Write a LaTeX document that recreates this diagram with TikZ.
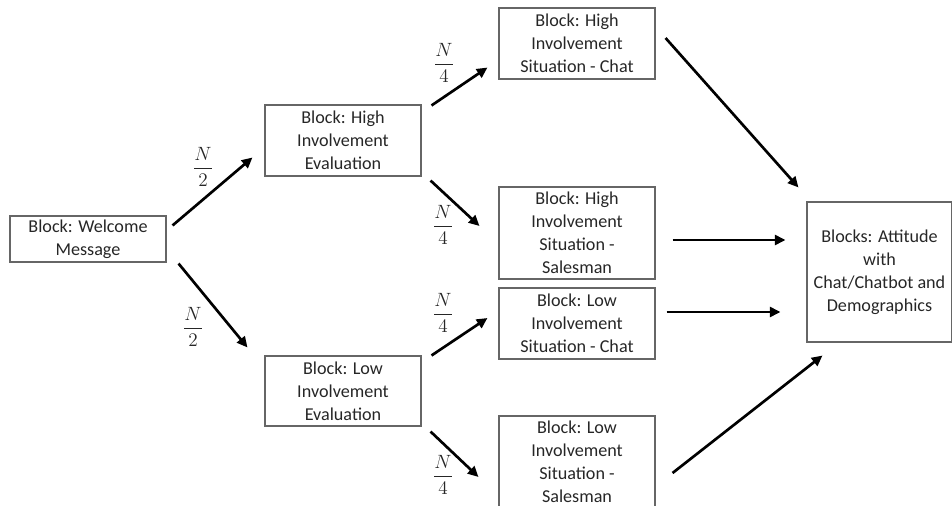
\documentclass[tikz,border=0pt]{standalone}
\usepackage{fontspec}
\setmainfont{Carlito}
\usetikzlibrary{arrows.meta}

\tikzset{
  block/.style={draw=black!60, line width=0.8pt, text=black!85, align=center,
    inner sep=0pt, minimum width=117pt, font=\fontsize{13.6}{17.25}\selectfont},
  flow/.style={line width=2pt, -{Triangle[length=8pt,width=7.5pt]}},
  share/.style={text=black!85, font=\fontsize{13.6}{16}\selectfont}
}

\begin{document}
\begin{tikzpicture}[x=0.75pt, y=-0.75pt]
      \useasboundingbox (0,0) rectangle (952,506);

      \node[block, minimum height=34.5pt] (welcome) at (88,239) {Block: Welcome\\Message};

      \node[block, minimum height=53.25pt] (hieval) at (343,140.5) {Block: High\\Involvement\\Evaluation};
      \node[block, minimum height=52.5pt] (loeval) at (343,391) {Block: Low\\Involvement\\Evaluation};

      \node[block, minimum height=53.25pt] (hichat) at (577,43.5) {Block: High\\Involvement\\Situation - Chat};
      \node[block, minimum height=69pt] (hisales) at (577,233) {Block: High\\Involvement\\Situation -\\Salesman};
      \node[block, minimum height=53.25pt] (lochat) at (577,323.5) {Block: Low\\Involvement\\Situation - Chat};
      \node[block, minimum height=69pt] (losales) at (577,462) {Block: Low\\Involvement\\Situation -\\Salesman};

      \node[block, minimum width=108.75pt, minimum height=105pt] (attitude) at (879.5,272)
        {Blocks: Attitude\\with\\Chat/Chatbot and\\Demographics};

      % split of the sample
      \draw[flow] ([shift={(6,10)}]welcome.north east) -- ([shift={(-12,17)}]hieval.west);
      \draw[flow] ([shift={(12,1)}]welcome.south east) -- ([shift={(-17,-8)}]loeval.north west);
      \draw[flow] ([shift={(10,1)}]hieval.north east) -- ([shift={(-11,-12)}]hichat.south west);
      \draw[flow] ([shift={(9,4)}]hieval.south east) -- ([shift={(-19,-7)}]hisales.west);
      \draw[flow] ([shift={(10,0)}]loeval.north east) -- ([shift={(-11,-5.5)}]lochat.west);
      \draw[flow] ([shift={(9,5)}]loeval.south east) -- ([shift={(-20,15)}]losales.west);

      \node[share] (half1) at (203,167) {$\displaystyle\frac{N}{2}$};
      \node[share] (half2) at (193,327) {$\displaystyle\frac{N}{2}$};
      \node[share] (quarter1) at (444,63) {$\displaystyle\frac{N}{4}$};
      \node[share] (quarter2) at (443,225) {$\displaystyle\frac{N}{4}$};
      \node[share] (quarter3) at (443,313) {$\displaystyle\frac{N}{4}$};
      \node[share] (quarter4) at (443,475) {$\displaystyle\frac{N}{4}$};

      % all paths end in the attitude block
      \draw[flow] ([shift={(10,-5.5)}]hichat.east) -- ([shift={(-8,-14)}]attitude.north west);
      \draw[flow] ([shift={(17,7)}]hisales.east) -- ([shift={(-21,-32)}]attitude.west);
      \draw[flow] ([shift={(11,-11.5)}]lochat.east) -- ([shift={(-26,40)}]attitude.west);
      \draw[flow] ([shift={(17,11)}]losales.east) -- ([shift={(16,13)}]attitude.south west);
\end{tikzpicture}
\end{document}
